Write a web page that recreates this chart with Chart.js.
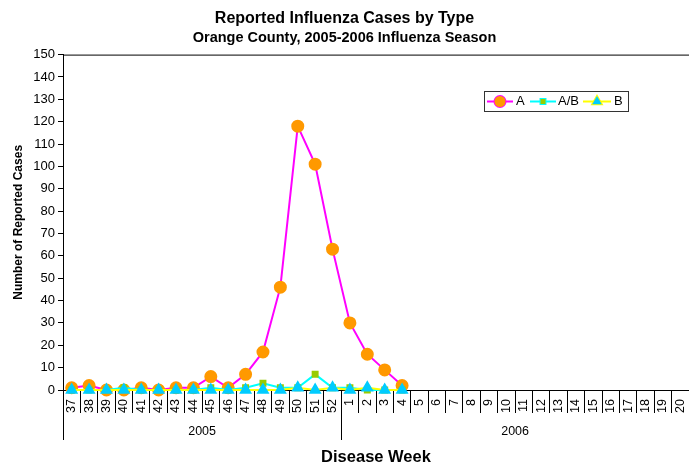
<!DOCTYPE html>
<html>
<head>
<meta charset="utf-8">
<script src="https://cdn.jsdelivr.net/npm/chart.js@4/dist/chart.umd.min.js"></script>
<style>
  html, body { margin: 0; padding: 0; background: #fff; }
  #wrap { width: 689px; height: 466px; }
</style>
</head>
<body>
<div id="wrap"><canvas id="fluChart"></canvas></div>
<script>
// disease weeks, 37-52 of 2005 then 1-20 of 2006
const weeks = ['37','38','39','40','41','42','43','44','45','46','47','48','49','50','51','52',
               '1','2','3','4','5','6','7','8','9','10','11','12','13','14','15','16','17','18','19','20'];
const typeA  = [1, 2, 0, 0, 1, 0, 1, 1, 6, 1, 7, 17, 46, 118, 101, 63, 30, 16, 9, 2];
const typeAB = [0, 0, 0, 1, 0, 0, 0, 0, 1, 0, 1, 3, 1, 1, 7, 1, 1, 0, 0, 0];
const typeB  = [0, 0, 0, 0, 0, 0, 0, 0, 0, 0, 0, 0, 0, 1, 0, 1, 0, 1, 0, 0];
const years = [{label: '2005', from: 0, to: 16}, {label: '2006', from: 16, to: 36}];

const FONT = "'Liberation Sans', Arial, sans-serif";

// extra drawing: top border, year separators, x title, legend box
const decorations = {
  id: 'decorations',
  afterDraw(chart) {
    const ctx = chart.ctx;
    const area = chart.chartArea;
    const step = (area.right - area.left) / weeks.length;
    ctx.save();
    ctx.strokeStyle = '#000';
    ctx.lineWidth = 1;
    ctx.beginPath();
    ctx.moveTo(area.left, area.top + 0.5);
    ctx.lineTo(area.right, area.top + 0.5);
    years.forEach(y => {
      const px = Math.round(area.left + y.from * step) + 0.5;
      ctx.moveTo(px, area.bottom);
      ctx.lineTo(px, area.bottom + 50);
    });
    ctx.stroke();

    ctx.fillStyle = '#000';
    ctx.textAlign = 'center';
    ctx.textBaseline = 'middle';
    ctx.font = '12.5px ' + FONT;
    years.forEach(y => {
      const cx = area.left + (y.from + y.to) / 2 * step;
      ctx.fillText(y.label, cx, area.bottom + 42);
    });
    ctx.font = 'bold 16.5px ' + FONT;
    ctx.fillText('Disease Week', (area.left + area.right) / 2, area.bottom + 67);

    // legend
    const lx = 484, ly = 91, lw = 144, lh = 20;
    ctx.strokeStyle = '#333';
    ctx.strokeRect(lx + 0.5, ly + 0.5, lw, lh);
    const items = [
      {ds: 0, x0: 487, x1: 513, text: 'A', tx: 516},
      {ds: 1, x0: 530, x1: 556, text: 'A/B', tx: 558},
      {ds: 2, x0: 583, x1: 611, text: 'B', tx: 614}
    ];
    const my = ly + 10.5;
    items.forEach(it => {
      const d = chart.data.datasets[it.ds];
      ctx.strokeStyle = d.borderColor;
      ctx.lineWidth = 2;
      ctx.beginPath();
      ctx.moveTo(it.x0, my);
      ctx.lineTo(it.x1, my);
      ctx.stroke();
      Chart.helpers.drawPoint(ctx, {
        pointStyle: d.pointStyle, radius: d.pointRadius, rotation: 0, borderWidth: 1
      }, (it.x0 + it.x1) / 2, my);
      ctx.fillStyle = d.pointBackgroundColor;
      ctx.strokeStyle = d.pointBorderColor;
      ctx.fill();
      ctx.fillStyle = '#000';
      ctx.textAlign = 'left';
      ctx.font = '13px ' + FONT;
      ctx.fillText(it.text, it.tx, my);
    });
    ctx.restore();
  }
};

new Chart(document.getElementById('fluChart'), {
  type: 'line',
  data: {
    labels: weeks,
    datasets: [{
      label: 'A',
      data: typeA,
      borderColor: '#FF00FF',
      borderWidth: 2,
      pointStyle: 'circle',
      pointRadius: 5.5,
      pointBackgroundColor: '#FF9900',
      pointBorderColor: '#FF9900',
      clip: false,
      order: 2
    }, {
      label: 'A/B',
      data: typeAB,
      borderColor: '#00FFFF',
      borderWidth: 2,
      pointStyle: 'rect',
      pointRadius: 3.5,
      pointBackgroundColor: '#99CC00',
      pointBorderColor: '#99CC00',
      clip: false,
      order: 1
    }, {
      label: 'B',
      data: typeB,
      borderColor: '#FFFF00',
      borderWidth: 2,
      pointStyle: 'triangle',
      pointRadius: 5.5,
      pointBackgroundColor: '#00CCFF',
      pointBorderColor: '#00CCFF',
      clip: false,
      order: 0
    }]
  },
  options: {
    responsive: true,
    maintainAspectRatio: false,
    animation: false,
    layout: { autoPadding: false, padding: { left: 0, right: 0, bottom: 0 } },
    elements: { line: { tension: 0 } },
    plugins: {
      legend: { display: false },
      tooltip: { enabled: false },
      title: {
        display: true,
        text: 'Reported Influenza Cases by Type',
        color: '#000',
        font: { family: FONT, size: 16, weight: 'bold' },
        padding: { top: 9, bottom: 0 }
      },
      subtitle: {
        display: true,
        text: 'Orange County, 2005-2006 Influenza Season',
        color: '#000',
        font: { family: FONT, size: 14.5, weight: 'bold' },
        padding: { top: 1, bottom: 8 }
      }
    },
    scales: {
      x: {
        offset: true,
        afterFit(scale) {
          scale.height = 76;
          scale.paddingLeft = 0;
          scale.paddingRight = 0;
        },
        border: { color: '#000', width: 1 },
        grid: { drawOnChartArea: false, offset: true, tickLength: 23, color: '#000' },
        ticks: {
          color: '#000', minRotation: 90, maxRotation: 90, autoSkip: false,
          padding: -14, font: { family: FONT, size: 12.5 }
        }
      },
      y: {
        min: 0, max: 150,
        afterFit(scale) { scale.width = 63; },
        border: { color: '#000', width: 1 },
        grid: { drawOnChartArea: false, tickLength: 5, color: '#000' },
        ticks: { stepSize: 10, color: '#000', padding: 3, font: { family: FONT, size: 13 } },
        title: {
          display: true,
          text: 'Number of Reported Cases',
          color: '#000',
          padding: { top: 11, bottom: 0 },
          font: { family: FONT, size: 12, weight: 'bold' }
        }
      }
    }
  },
  plugins: [decorations]
});
</script>
</body>
</html>
